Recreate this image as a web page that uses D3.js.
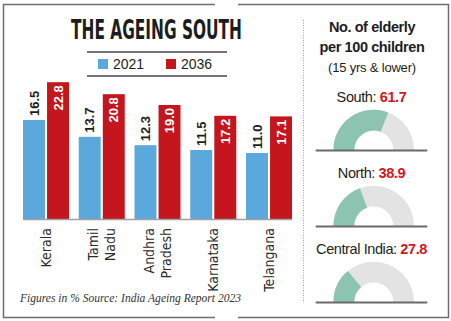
<!DOCTYPE html>
<html>
<head>
<meta charset="utf-8">
<script src="https://cdn.jsdelivr.net/npm/d3@7"></script>
<style>
  html, body { margin: 0; padding: 0; background: #fff; }
  svg { display: block; }
  .sans { font-family: "Liberation Sans", Arial, sans-serif; }
  .narrow { font-family: "Liberation Sans Narrow", "DejaVu Sans Condensed", sans-serif; }
</style>
</head>
<body>
<svg id="chart" width="451" height="321"></svg>
<script>
// data
const categories = [["Kerala"], ["Tamil", "Nadu"], ["Andhra", "Pradesh"], ["Karnataka"], ["Telangana"]];
const years = ["2021", "2036"];
const values2021 = [16.5, 13.7, 12.3, 11.5, 11.0];
const values2036 = [22.8, 20.8, 19.0, 17.2, 17.1];
const regions = ["South", "North", "Central India"];
const elderlyPer100 = [61.7, 38.9, 27.8];

const colors = { "2021": "#5ba8dc", "2036": "#c4161c" };
const green = "#8dc4b1", grey = "#e3e3e3", red = "#d0181f", ink = "#1d1d1d";

const svg = d3.select("#chart");

// frame with the little gaps top and bottom
svg.append("rect").attr("x", 3.5).attr("y", 4.5).attr("width", 445).attr("height", 313)
  .attr("fill", "none").attr("stroke", "#6e6e6e").attr("stroke-width", 1.5);
[4.5, 317.5].forEach(y => {
  svg.append("line").attr("x1", 215).attr("x2", 238).attr("y1", y).attr("y2", y)
    .attr("stroke", "#fff").attr("stroke-width", 3);
});

// title
svg.append("text").attr("x", 71).attr("y", 39)
  .attr("font-family", "'DejaVu Sans Condensed', 'Liberation Sans Narrow', sans-serif")
  .attr("font-weight", 900).attr("font-size", 26).attr("fill", ink)
  .attr("textLength", 171).attr("lengthAdjust", "spacingAndGlyphs")
  .text("THE AGEING SOUTH");

// legend
[52, 76].forEach(y => {
  svg.append("line").attr("x1", 87).attr("x2", 227).attr("y1", y).attr("y2", y)
    .attr("stroke", "#444").attr("stroke-width", 1.3);
});
const legendX = d3.scalePoint().domain(years).range([98, 166]);
const leg = svg.append("g").selectAll("g").data(years).join("g")
  .attr("transform", d => `translate(${legendX(d)},59)`);
leg.append("rect").attr("width", 10).attr("height", 10).attr("fill", d => colors[d]);
leg.append("text").attr("class", "sans").attr("x", 15).attr("y", 9.5)
  .attr("font-size", 14).attr("fill", ink).text(d => d);

// bars
const x0 = d3.scaleBand().domain(d3.range(categories.length)).range([23, 292])
  .paddingInner(0.175).paddingOuter(0);
const x1 = d3.scaleBand().domain(years).range([0, x0.bandwidth()]).paddingInner(0.087);
const y = d3.scaleLinear().domain([0, 25]).range([219, 69]);

const rows = categories.map((c, i) => ({ i, c, vals: [values2021[i], values2036[i]] }));

const groups = svg.append("g").selectAll("g").data(rows).join("g")
  .attr("transform", d => `translate(${x0(d.i)},0)`);

groups.selectAll("rect").data(d => years.map((yr, k) => ({ yr, v: d.vals[k] }))).join("rect")
  .attr("x", d => x1(d.yr)).attr("width", x1.bandwidth())
  .attr("y", d => y(d.v)).attr("height", d => y(0) - y(d.v))
  .attr("fill", d => colors[d.yr]);

groups.selectAll("text.val").data(d => years.map((yr, k) => ({ yr, v: d.vals[k] }))).join("text")
  .attr("class", "val sans")
  .attr("font-size", 13).attr("font-weight", "bold")
  .attr("dy", "0.36em")
  .attr("text-anchor", d => d.yr === "2021" ? "start" : "end")
  .attr("fill", d => d.yr === "2021" ? ink : "#fff")
  .attr("transform", d => {
    const cx = x1(d.yr) + x1.bandwidth() / 2;
    const ty = d.yr === "2021" ? y(d.v) - 4 : y(d.v) + 3;
    return `translate(${cx},${ty}) rotate(-90)`;
  })
  .text(d => d.v.toFixed(1));

// baseline
svg.append("line").attr("x1", 23).attr("x2", 292).attr("y1", y(0) + 0.5).attr("y2", y(0) + 0.5)
  .attr("stroke", "#a0a0a0").attr("stroke-width", 1.5);

// category labels, rotated
groups.each(function(d) {
  const g = d3.select(this);
  const cx = x0.bandwidth() / 2;
  d.c.forEach((line, k) => {
    const off = (k - (d.c.length - 1) / 2) * 17;
    g.append("text").attr("class", "narrow")
      .attr("font-size", 14).attr("fill", "#2a2a2a")
      .attr("text-anchor", "end").attr("dy", "0.36em")
      .attr("transform", `translate(${cx + off},228) rotate(-90)`)
      .text(line);
  });
});

// footer
svg.append("text").attr("x", 20).attr("y", 302)
  .attr("font-family", "'Liberation Serif', 'DejaVu Serif', serif")
  .attr("font-style", "italic").attr("font-size", 13.5).attr("fill", "#333")
  .attr("textLength", 221).attr("lengthAdjust", "spacingAndGlyphs")
  .text("Figures in %  Source: India Ageing Report 2023");

// divider
svg.append("line").attr("x1", 303.5).attr("x2", 303.5).attr("y1", 20).attr("y2", 303)
  .attr("stroke", "#9a9a9a").attr("stroke-width", 1).attr("stroke-dasharray", "1,1.5");

// right panel heading
const head = svg.append("g").attr("class", "sans").attr("text-anchor", "middle").attr("fill", ink);
head.append("text").attr("x", 372).attr("y", 32).attr("font-size", 14.5).attr("font-weight", "bold")
  .attr("letter-spacing", -0.4).text("No. of elderly");
head.append("text").attr("x", 372).attr("y", 52).attr("font-size", 14.5).attr("font-weight", "bold")
  .attr("letter-spacing", -0.4).text("per 100 children");
head.append("text").attr("x", 372).attr("y", 72).attr("font-size", 13)
  .attr("letter-spacing", -0.2).text("(15 yrs & lower)");

// gauges
const gy = d3.scaleLinear().domain([0, 1]).range([150, 226]);
const share = d3.scaleLinear().domain([0, 100]).range([-Math.PI / 2, Math.PI / 2]);
const arc = d3.arc().innerRadius(19.5).outerRadius(40.3);

const gauges = svg.append("g").selectAll("g").data(regions.map((r, i) => ({ r, v: elderlyPer100[i], i })))
  .join("g").attr("transform", d => `translate(373.7,${gy(d.i)})`);

gauges.append("path").attr("d", arc({ startAngle: share(0), endAngle: share(100) })).attr("fill", grey);
gauges.append("path").attr("d", d => arc({ startAngle: share(0), endAngle: share(d.v) })).attr("fill", green);
gauges.append("line").attr("x1", -58).attr("x2", 53.6).attr("y1", 0.5).attr("y2", 0.5)
  .attr("stroke", "#6a6a6a").attr("stroke-width", 2);

const lab = gauges.append("text").attr("class", "sans").attr("x", -2.2).attr("y", -48)
  .attr("text-anchor", "middle").attr("font-size", 14.5).attr("letter-spacing", -0.4);
lab.append("tspan").attr("fill", ink).text(d => d.r + ": ");
lab.append("tspan").attr("fill", red).attr("font-weight", "bold").text(d => d.v.toFixed(1));
</script>
</body>
</html>
